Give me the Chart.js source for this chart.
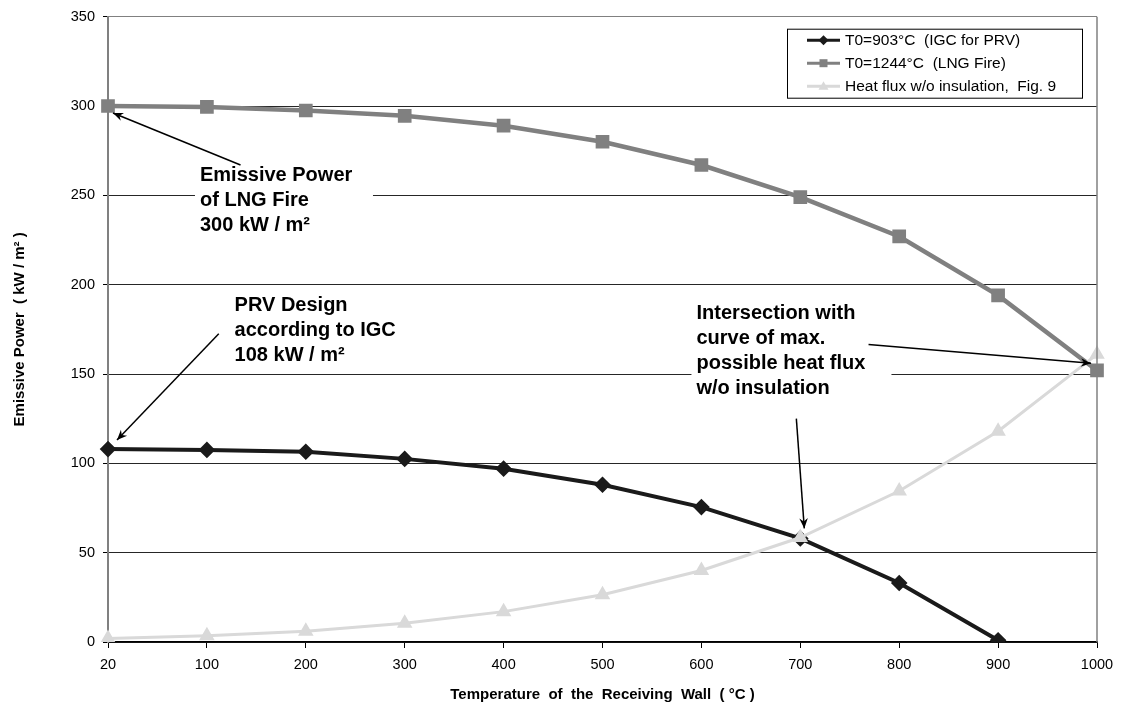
<!DOCTYPE html>
<html>
<head>
<meta charset="utf-8">
<script src="https://cdn.jsdelivr.net/npm/chart.js@4.4.1/dist/chart.umd.min.js"></script>
<style>
  html, body { margin: 0; padding: 0; background: #fff; }
  #wrap { width: 1135px; height: 707px; }
</style>
</head>
<body>
<div id="wrap"><canvas id="chartjs" width="1135" height="707"></canvas></div>
<script>
// temperature of the receiving wall (categories)
var wallTemps = ["20", "100", "200", "300", "400", "500", "600", "700", "800", "900", "1000"];
// emissive power, kW/m2
var igcPrv = [108, 107.5, 106.5, 102.5, 97, 88, 75.5, 58, 33, 1, null];
var lngFire = [300, 299.5, 297.5, 294.5, 289, 280, 267, 249, 227, 194, 152];
var heatFlux = [2, 3.5, 6, 10.5, 17, 26.5, 40, 58.5, 84.5, 118, 161];
var seriesNames = ["T0=903\u00b0C  (IGC for PRV)", "T0=1244\u00b0C  (LNG Fire)", "Heat flux w/o insulation,  Fig. 9"];

var FONT = "'Liberation Sans', Arial, Helvetica, sans-serif";

// text notes: position in (category index, value) units
var notes = [
  { lines: ["Emissive Power", "of LNG Fire", "300 kW / m\u00b2"], at: [0.93, 258], box: 178,
    from: [1.34, 267], to: [0, 300], off: [5, 7] },
  { lines: ["PRV Design", "according to IGC", "108 kW / m\u00b2"], at: [1.28, 185], box: 0,
    from: [1.12, 172.5], to: [0, 108], off: [9, -9] },
  { lines: ["Intersection with", "curve of max.", "possible heat flux", "w/o insulation"], at: [5.95, 181], box: 200,
    from: [7.69, 166.5], to: [10, 156], off: [-6, 0] },
  { lines: [], at: null, box: 0, from: [6.96, 125], to: [7, 58], off: [4, -10] }
];

function arrow(ctx, x1, y1, x2, y2) {
  var ang = Math.atan2(y2 - y1, x2 - x1);
  ctx.save();
  ctx.strokeStyle = "#000";
  ctx.fillStyle = "#000";
  ctx.lineWidth = 1.5;
  ctx.beginPath();
  ctx.moveTo(x1, y1);
  ctx.lineTo(x2, y2);
  ctx.stroke();
  ctx.beginPath();
  ctx.moveTo(x2, y2);
  ctx.lineTo(x2 - 11 * Math.cos(ang - 0.4), y2 - 11 * Math.sin(ang - 0.4));
  ctx.lineTo(x2 - 7 * Math.cos(ang), y2 - 7 * Math.sin(ang));
  ctx.lineTo(x2 - 11 * Math.cos(ang + 0.4), y2 - 11 * Math.sin(ang + 0.4));
  ctx.closePath();
  ctx.fill();
  ctx.restore();
}

function marker(ctx, style, x, y, r) {
  ctx.beginPath();
  if (style === "rectRot") {
    ctx.moveTo(x, y - r); ctx.lineTo(x + r, y); ctx.lineTo(x, y + r); ctx.lineTo(x - r, y);
  } else if (style === "rect") {
    ctx.rect(x - r * 0.8, y - r * 0.8, r * 1.6, r * 1.6);
  } else {
    ctx.moveTo(x, y - r); ctx.lineTo(x + r, y + r * 0.7); ctx.lineTo(x - r, y + r * 0.7);
  }
  ctx.closePath();
  ctx.fill();
}

var extras = {
  id: "extras",
  afterDraw: function (chart) {
    var ctx = chart.ctx;
    var a = chart.chartArea;
    var xs = chart.scales.x, ys = chart.scales.y;

    // right border of the plot
    ctx.save();
    ctx.strokeStyle = "#808080";
    ctx.lineWidth = 1.5;
    ctx.beginPath();
    ctx.moveTo(a.right, a.top);
    ctx.lineTo(a.right, a.bottom);
    ctx.stroke();
    ctx.restore();

    // notes and arrows
    ctx.save();
    ctx.font = "bold 20px " + FONT;
    ctx.textBaseline = "alphabetic";
    notes.forEach(function (n) {
      if (n.at) {
        var tx = xs.getPixelForValue(n.at[0]);
        var ty = ys.getPixelForValue(n.at[1]);
        if (n.box) {
          ctx.fillStyle = "#fff";
          ctx.fillRect(tx - 5, ty - 19, n.box, n.lines.length * 25 + 2);
        }
        ctx.fillStyle = "#000";
        n.lines.forEach(function (l, i) { ctx.fillText(l, tx, ty + i * 25); });
      }
      arrow(ctx,
        xs.getPixelForValue(n.from[0]), ys.getPixelForValue(n.from[1]),
        xs.getPixelForValue(n.to[0]) + n.off[0], ys.getPixelForValue(n.to[1]) + n.off[1]);
    });
    ctx.restore();

    // legend box
    var lx = a.right - 310, ly = a.top + 12, lw = 295, lh = 69;
    ctx.save();
    ctx.fillStyle = "#fff";
    ctx.fillRect(lx, ly, lw, lh);
    ctx.strokeStyle = "#000";
    ctx.lineWidth = 1;
    ctx.strokeRect(lx + 0.5, ly + 0.5, lw, lh);
    ctx.font = "15.5px " + FONT;
    ctx.textBaseline = "middle";
    chart.data.datasets.forEach(function (ds, i) {
      var cy = ly + 11.5 + i * 23;
      ctx.strokeStyle = ds.borderColor;
      ctx.fillStyle = ds.borderColor;
      ctx.lineWidth = 3;
      ctx.beginPath();
      ctx.moveTo(lx + 20, cy);
      ctx.lineTo(lx + 53, cy);
      ctx.stroke();
      marker(ctx, ds.pointStyle, lx + 36.5, cy, 5);
      ctx.fillStyle = "#000";
      ctx.fillText(ds.label, lx + 58, cy + 1);
    });
    ctx.restore();
  }
};

var ctx0 = document.getElementById("chartjs");
var myChart = new Chart(ctx0, {
  type: "line",
  data: {
    labels: wallTemps,
    datasets: [
      {
        label: seriesNames[0],
        data: igcPrv,
        borderColor: "#1a1a1a",
        backgroundColor: "#1a1a1a",
        borderWidth: 4,
        pointStyle: "rectRot",
        pointRadius: 5.5,
        pointHoverRadius: 5.5,
        lineTension: 0,
        order: 2
      },
      {
        label: seriesNames[1],
        data: lngFire,
        borderColor: "#808080",
        backgroundColor: "#808080",
        borderWidth: 4.5,
        pointStyle: "rect",
        pointRadius: 6.5,
        pointHoverRadius: 6.5,
        lineTension: 0,
        order: 1
      },
      {
        label: seriesNames[2],
        data: heatFlux,
        borderColor: "#d9d9d9",
        backgroundColor: "#d9d9d9",
        borderWidth: 3,
        pointStyle: "triangle",
        pointRadius: 6,
        pointHoverRadius: 6,
        lineTension: 0,
        order: 0
      }
    ]
  },
  options: {
    responsive: false,
    animation: false,
    layout: { padding: { top: 13, right: 38, left: 0, bottom: 0 } },
    plugins: {
      legend: { display: false },
      tooltip: { enabled: false }
    },
    scales: {
      x: {
        type: "category",
        offset: false,
        afterFit: function (s) { s.height = 65; },
        grid: { drawOnChartArea: false, drawTicks: true, tickLength: 6, tickColor: "#000" },
        border: { color: "#000", width: 1.5 },
        ticks: { color: "#000", padding: 8, font: { family: FONT, size: 14.5 }, maxRotation: 0, autoSkip: false },
        title: {
          display: true,
          text: "Temperature  of  the  Receiving  Wall  ( \u00b0C )",
          color: "#000",
          font: { family: FONT, size: 15, weight: "bold" },
          padding: { top: 4, bottom: 3 }
        }
      },
      y: {
        min: 0,
        max: 350,
        afterFit: function (s) { s.width = 108; },
        grid: {
          color: function (c) { return c.tick && c.tick.value === 350 ? "#808080" : "#262626"; },
          lineWidth: 1,
          tickLength: 5,
          tickColor: "#000"
        },
        border: { color: "#808080", width: 2 },
        ticks: { stepSize: 50, color: "#000", padding: 8, font: { family: FONT, size: 14.5 } },
        title: {
          display: true,
          text: "Emissive Power  ( kW / m\u00b2 )",
          color: "#000",
          font: { family: FONT, size: 15, weight: "bold" },
          padding: { top: 11, bottom: 4 }
        }
      }
    }
  },
  plugins: [extras]
});
</script>
</body>
</html>
